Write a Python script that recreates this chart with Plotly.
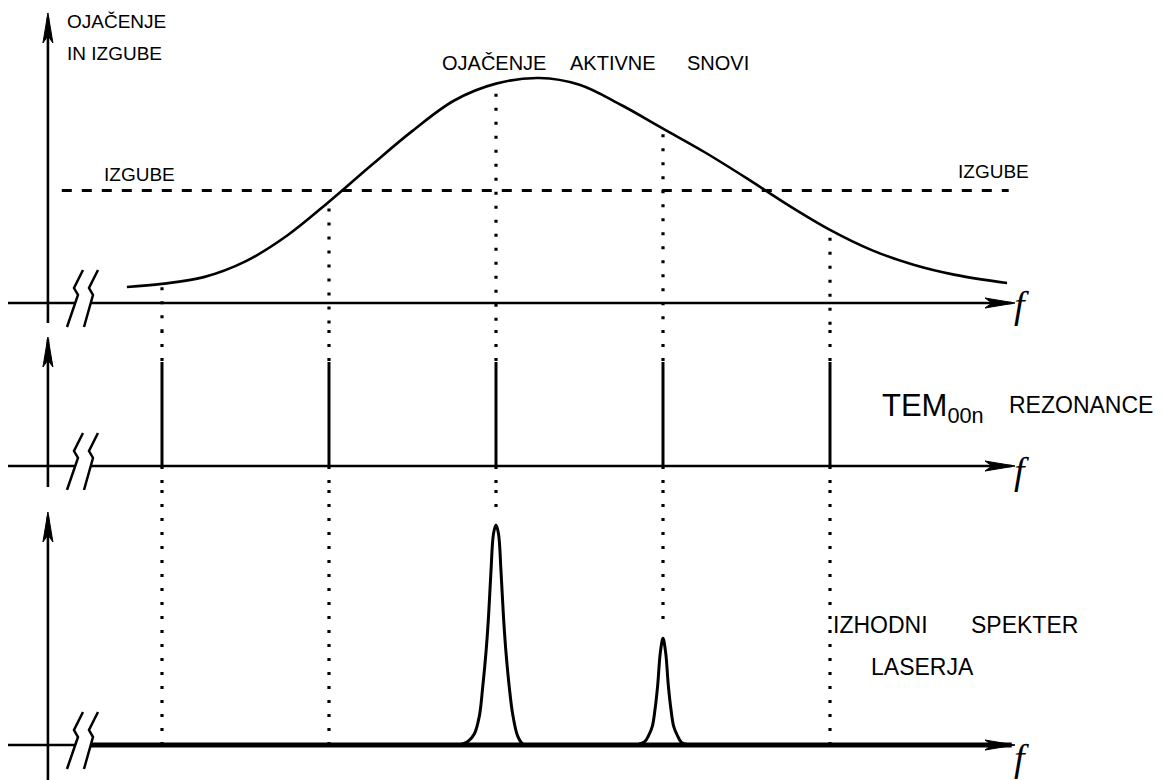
import plotly.graph_objects as go

# ---------------- data ----------------
# TEM00n resonance frequencies (arbitrary frequency units, equally spaced)
mode_f = [1, 2, 3, 4, 5]
# gain curve of the active medium (relative units, peak = 1)
gain_f = [0.79, 1.00, 1.25, 1.50, 1.75, 2.00, 2.25, 2.50, 2.75, 3.00, 3.26, 3.50,
          3.75, 4.00, 4.25, 4.50, 4.75, 5.00, 5.25, 5.50, 5.75, 6.06]
gain_g = [0.071, 0.085, 0.115, 0.185, 0.300, 0.450, 0.610, 0.765, 0.900, 0.975, 1.000, 0.970,
          0.880, 0.775, 0.670, 0.555, 0.435, 0.325, 0.235, 0.170, 0.125, 0.089]
# loss level (dashed line) and its extent
loss_level = 0.50
loss_f = [0.40, 6.07]
# gain where each resonance's dotted guide begins
mode_gain = [0.07, 0.42, 0.93, 0.75, 0.29]
# resonance line heights
resonance_h = [1, 1, 1, 1, 1]
# laser output lines: which modes lase, and their line shapes
lasing_modes = [3, 4]
peak1_df = [-0.26, -0.21, -0.17, -0.13, -0.10, -0.08, -0.06, -0.045, -0.03, -0.015, 0,
            0.015, 0.03, 0.045, 0.06, 0.08, 0.10, 0.13, 0.16, 0.21]
peak1_I = [0, 0.003, 0.015, 0.05, 0.13, 0.26, 0.42, 0.58, 0.79, 0.96, 1.0,
           0.96, 0.79, 0.58, 0.42, 0.26, 0.14, 0.04, 0.005, 0]
peak2_df = [-0.20, -0.15, -0.11, -0.085, -0.064, -0.048, -0.032, -0.016, 0,
            0.016, 0.032, 0.048, 0.064, 0.085, 0.11, 0.15, 0.20]
peak2_I = [0, 0.003, 0.015, 0.045, 0.085, 0.16, 0.27, 0.42, 0.485,
           0.42, 0.27, 0.16, 0.085, 0.045, 0.012, 0.002, 0]

# ---------------- layout constants ----------------
W, H = 1164, 780
X_RANGE = [0.03, 7.0]
Y1_RANGE = [-0.12, 1.3467]
Y2_RANGE = [-0.2308, 1.3077]
Y3_RANGE = [-0.159, 1.159]
AX_X = 0.317          # vertical axis position
AX_LEFT = 0.078       # left start of horizontal axes
BREAK_X = 0.509       # axis break position
BREAK_L, BREAK_R = 0.479, 0.5734
TIP_X = 6.108
INK = "black"

fig = go.Figure()

# gain curve
fig.add_trace(go.Scatter(x=gain_f, y=gain_g, mode="lines", yaxis="y",
                         line=dict(color=INK, width=2.6, shape="spline", smoothing=1.0)))
# losses
fig.add_trace(go.Scatter(x=loss_f, y=[loss_level] * 2, mode="lines", yaxis="y",
                         line=dict(color=INK, width=3, dash="10px,10px")))

DOT = dict(color=INK, width=3.2, dash="3px,11px")
# dotted guides: top panel
xs, ys = [], []
for m, g in zip(mode_f, mode_gain):
    xs += [m, m, None]
    ys += [g, Y1_RANGE[0], None]
fig.add_trace(go.Scatter(x=xs, y=ys, mode="lines", yaxis="y", line=DOT))
# middle panel: above and below resonance lines
xs, ys = [], []
for m, h in zip(mode_f, resonance_h):
    xs += [m, m, None, m, m, None]
    ys += [Y2_RANGE[1], h, None, 0, Y2_RANGE[0], None]
fig.add_trace(go.Scatter(x=xs, y=ys, mode="lines", yaxis="y2", line=DOT))
# resonance lines
xs, ys = [], []
for m, h in zip(mode_f, resonance_h):
    xs += [m, m, None]
    ys += [0, h, None]
fig.add_trace(go.Scatter(x=xs, y=ys, mode="lines", yaxis="y2",
                         line=dict(color=INK, width=3)))
# bottom panel dotted guides
peak_tops = {lasing_modes[0]: max(peak1_I), lasing_modes[1]: max(peak2_I)}
xs, ys = [], []
for m in mode_f:
    bottom = peak_tops[m] + 0.06 if m in peak_tops else 0
    xs += [m, m, None]
    ys += [Y3_RANGE[1], bottom, None]
fig.add_trace(go.Scatter(x=xs, y=ys, mode="lines", yaxis="y3", line=DOT))
# laser output lines
for m, df, I in [(lasing_modes[0], peak1_df, peak1_I), (lasing_modes[1], peak2_df, peak2_I)]:
    fig.add_trace(go.Scatter(x=[m + d for d in df], y=I, mode="lines", yaxis="y3",
                             line=dict(color=INK, width=3, shape="spline", smoothing=1.0)))

shapes = []


def axis_set(yref, v_tail, v_tip, base_width):
    # horizontal axis, two segments around the break
    shapes.append(dict(type="line", xref="x", yref=yref, x0=AX_LEFT, x1=BREAK_L, y0=0, y1=0,
                       line=dict(color=INK, width=2.6), layer="below"))
    shapes.append(dict(type="line", xref="x", yref=yref, x0=BREAK_R, x1=TIP_X - 0.02, y0=0, y1=0,
                       line=dict(color=INK, width=base_width), layer="below"))
    shapes.append(dict(type="path", xref="x", yref=yref, xsizemode="pixel", ysizemode="pixel",
                       xanchor=TIP_X, yanchor=0, path="M0,0 L-30,5 L-23,0 L-30,-5 Z",
                       fillcolor=INK, line=dict(color=INK, width=1)))
    # break marks
    shapes.append(dict(type="path", xref="x", yref=yref, xsizemode="pixel", ysizemode="pixel",
                       xanchor=BREAK_X, yanchor=0,
                       path="M3,33 L-6,15 L-2,8 L-13,-24 M18,33 L9,15 L13,8 L4,-24",
                       line=dict(color=INK, width=2.5)))
    # vertical axis
    shapes.append(dict(type="line", xref="x", yref=yref, x0=AX_X, x1=AX_X, y0=v_tail, y1=v_tip - 0.02,
                       line=dict(color=INK, width=2.6), layer="below"))
    shapes.append(dict(type="path", xref="x", yref=yref, xsizemode="pixel", ysizemode="pixel",
                       xanchor=AX_X, yanchor=v_tip, path="M0,0 L-5,-30 L0,-23 L5,-30 Z",
                       fillcolor=INK, line=dict(color=INK, width=1)))


axis_set("y", -0.089, 1.289, 2.6)
axis_set("y2", -0.202, 1.240, 2.6)
axis_set("y3", Y3_RANGE[0], 1.059, 4.8)

FONT = "Liberation Sans"
ann = []


def label(text, x, y, size, xanchor="center", family=FONT):
    ann.append(dict(text=text, x=x / W, y=1 - y / H, xref="paper", yref="paper",
                    xanchor=xanchor, yanchor="middle", showarrow=False,
                    font=dict(family=family, size=size, color=INK)))


label("OJAČENJE", 65, 21, 19, "left")
label("IN IZGUBE", 65, 54, 19, "left")
label("OJAČENJE", 494, 63, 20)
label("AKTIVNE", 613, 63, 20)
label("SNOVI", 718, 63, 20)
label("IZGUBE", 139, 175, 19)
label("IZGUBE", 993, 171, 19)
label("TEM<sub>00n</sub>", 880, 408, 31, "left")
label("REZONANCE", 1081, 405, 23)
label("IZHODNI", 880, 625, 23)
label("SPEKTER", 1024, 625, 23)
label("LASERJA", 922, 667, 23)
for fy in [305, 471, 758]:
    label("<i>f</i>", 1021, fy, 38, family="Liberation Serif")

fig.update_layout(
    width=W, height=H, autosize=False,
    margin=dict(l=0, r=0, t=0, b=0),
    paper_bgcolor="white", plot_bgcolor="white",
    showlegend=False,
    xaxis=dict(range=X_RANGE, visible=False, domain=[0, 1], fixedrange=True),
    yaxis=dict(range=Y1_RANGE, domain=[1 - 330 / H, 1], visible=False, anchor="x", fixedrange=True),
    yaxis2=dict(range=Y2_RANGE, domain=[1 - 490 / H, 1 - 330 / H], visible=False, anchor="x", fixedrange=True),
    yaxis3=dict(range=Y3_RANGE, domain=[0, 1 - 490 / H], visible=False, anchor="x", fixedrange=True),
    shapes=shapes, annotations=ann,
)

fig.write_html("out.html",
               config={"displayModeBar": False, "staticPlot": True},
               post_script="document.body.style.margin='0px';"
                           "document.documentElement.style.overflow='hidden';")
